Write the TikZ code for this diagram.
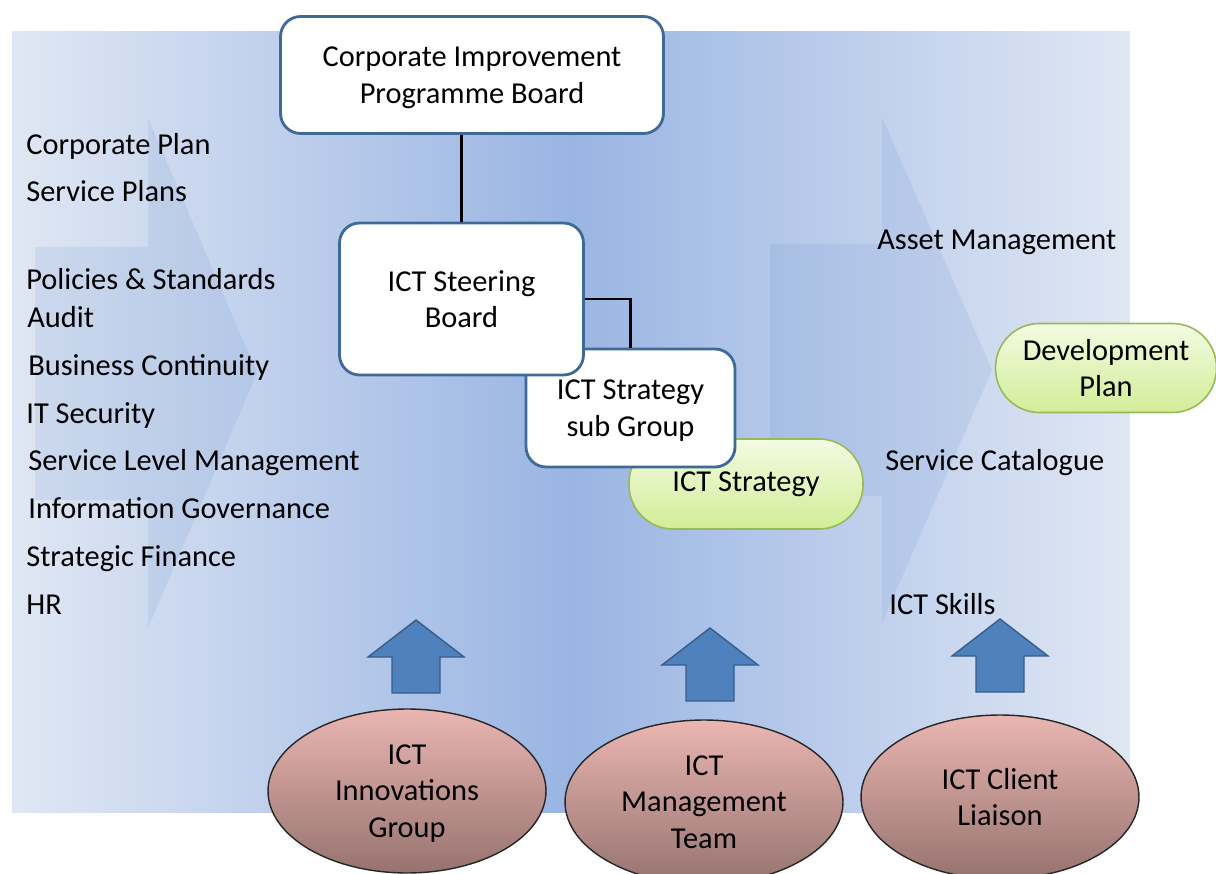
\documentclass[tikz,border=0pt]{standalone}
\usepackage{fontspec}
\setmainfont{Carlito}
\usepackage{xcolor}
\usetikzlibrary{shapes.geometric,positioning}

\definecolor{bgedge}{HTML}{E0E7F4}
\definecolor{bgmid}{HTML}{9AB5E3}
\definecolor{flowfill}{HTML}{5B86C8}
\definecolor{boxline}{HTML}{3F6A98}
\definecolor{greentop}{HTML}{F3FBE2}
\definecolor{greenbot}{HTML}{D2ED98}
\definecolor{greenline}{HTML}{98B957}
\definecolor{rosetop}{HTML}{EAB6B2}
\definecolor{rosebot}{HTML}{96736F}
\definecolor{pushfill}{HTML}{4F81BD}
\definecolor{pushline}{HTML}{385D8A}

\begin{document}
\begin{tikzpicture}[
  x=0.02cm, y=-0.02cm,
  font=\fontsize{17.3}{20.8}\selectfont,
  board/.style={draw=boxline,line width=1.6pt,fill=white,rounded corners=0.4cm,align=center,inner sep=0pt,text depth=0pt},
  goal/.style={draw=greenline,line width=0.9pt,top color=greentop,bottom color=greenbot,rounded corners=0.88cm,align=center,inner sep=0pt},
  team/.style={ellipse,draw=black!85,line width=0.8pt,top color=rosetop,bottom color=rosebot,minimum width=5.56cm,minimum height=3.28cm,align=center,inner sep=0pt,text depth=0pt},
  item/.style={anchor=base west,inner sep=0pt},
  link/.style={line width=1.4pt},
  flow/.style={fill=flowfill,fill opacity=0.13},
  push/.style={fill=pushfill,draw=pushline,line width=0.8pt}
]
\useasboundingbox (0,0) rectangle (1216,874);

% backdrop and the two wide flow arrows
\shade[left color=bgedge,right color=bgedge,middle color=bgmid] (12,32) rectangle (1130,812);
\fill[flow] (35,247) -- (148,247) -- (148,118) -- (257,373) -- (148,628) -- (148,500) -- (35,500) -- cycle;
\fill[flow] (770,244) -- (882,244) -- (882,117) -- (992,370) -- (882,623) -- (882,496) -- (770,496) -- cycle;

% inputs on the left
\node[item] (corpplan) at (26,155) {Corporate Plan};
\node[item] (svcplans) at (26,202) {Service Plans};
\node[item] (policies) at (26,290) {Policies \& Standards};
\node[item] (audit)    at (27,328) {Audit};
\node[item] (continu)  at (28,376) {Business Continuity};
\node[item] (itsec)    at (26,423) {IT Security};
\node[item] (slm)      at (28,470) {Service Level Management};
\node[item] (infogov)  at (28,518) {Information Governance};
\node[item] (finance)  at (26,566) {Strategic Finance};
\node[item] (hr)       at (26,614) {HR};

% outputs on the right
\node[item] (assets)  at (877,250) {Asset Management};
\node[item] (catalog) at (885,470) {Service Catalogue};
\node[item] (skills)  at (889,614) {ICT Skills};

% governance boxes
\node[goal,minimum width=4.68cm,minimum height=1.8cm] (strategy) at (746,484) {ICT Strategy};
\node[goal,minimum width=4.42cm,minimum height=1.78cm] (devplan) at (1106,368) {Development\\Plan};
\node[board,minimum width=4.18cm,minimum height=2.36cm] (subgrp) at (630.5,408) {ICT Strategy\\sub Group};
\node[board,minimum width=4.88cm,minimum height=3.04cm] (steer) at (461.5,299) {ICT Steering\\Board};
\node[board,minimum width=7.66cm,minimum height=2.34cm] (corp) at (472,75) {Corporate Improvement\\Programme Board};

\draw[link] (steer.north) -- (steer.north |- corp.south);
\draw[link] (steer.east) -| (subgrp.north);

% teams feeding up
\foreach \x/\t in {416/620,710/628,1000/619}
  \draw[push] (\x,\t) -- ++(48,37) -- ++(-24,0) -- ++(0,36) -- ++(-48,0) -- ++(0,-36) -- ++(-24,0) -- cycle;

\node[team] (innov) at (407,791) {ICT\\Innovations\\Group};
\node[team] (mgmt)  at (704,802) {ICT\\Management\\Team};
\node[team] (client) at (1000,797) {ICT Client\\Liaison};
\end{tikzpicture}
\end{document}
